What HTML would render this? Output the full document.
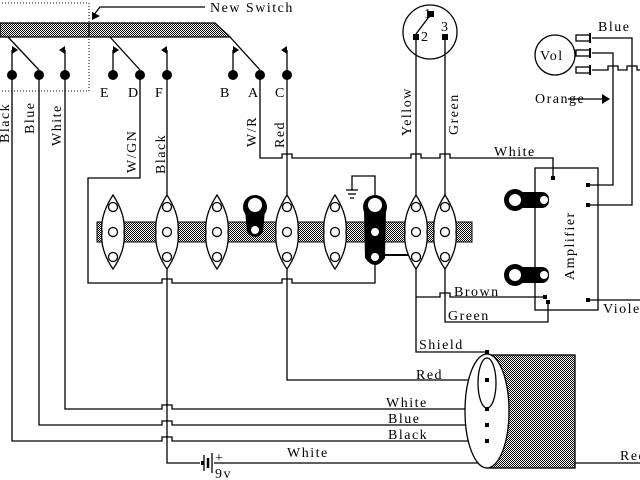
<!DOCTYPE html>
<html><head><style>body{margin:0;background:#fff}svg{display:block}text{font-family:"Liberation Serif",serif;font-size:14px;fill:#000;letter-spacing:1.5px}</style></head><body>
<svg width="640" height="480" viewBox="0 0 640 480" xmlns="http://www.w3.org/2000/svg">
<defs><pattern id="g" width="2" height="2" patternUnits="userSpaceOnUse"><rect width="2" height="2" fill="#fff"/><rect width="1" height="1" fill="#000"/><rect x="1" y="1" width="1" height="1" fill="#000"/></pattern></defs>
<g stroke="#000" stroke-width="1.3" fill="none">
<polygon points="0,23 215,23 230,37 0,37" fill="url(#g)"/>
<line x1="89" y1="23" x2="89" y2="37"/>
<rect x="-1" y="3" width="90" height="88" stroke-dasharray="1,2" stroke-width="1"/>
<polyline points="205,7 100,7 93,16"/>
<line x1="8" y1="37" x2="39" y2="70"/><line x1="110" y1="37" x2="140" y2="70"/><line x1="230" y1="37" x2="260" y2="70"/>
<line x1="12" y1="50" x2="12" y2="75"/><line x1="65" y1="50" x2="65" y2="75"/><line x1="113" y1="50" x2="113" y2="75"/><line x1="167" y1="50" x2="167" y2="75"/><line x1="233" y1="50" x2="233" y2="75"/><line x1="287" y1="50" x2="287" y2="75"/>
<polyline points="12,75 12,441 162,441 162,437 172,437 172,441 487,441"/>
<polyline points="39,75 39,425 162,425 162,421 172,421 172,425 487,425"/>
<polyline points="65,75 65,409 162,409 162,405 172,405 172,409 487,409"/>
<polyline points="140,75 140,178 88,178 88,283 162,283 162,279 172,279 172,283 282,283 282,279 292,279 292,283 375,283 375,262"/>
<polyline points="167,75 167,195"/>
<polyline points="167,268 167,463 200,463"/>
<line x1="214" y1="463" x2="640" y2="463"/>
<polyline points="260,75 260,158 282,158 282,154 292,154 292,158 411,158 411,154 421,154 421,158 440,158 440,154 450,154 450,158 553,158 553,178"/>
<polyline points="287,75 287,195"/>
<polyline points="287,268 287,380 487,380"/>
<line x1="416" y1="37" x2="416" y2="195"/><line x1="445" y1="37" x2="445" y2="195"/>
<polyline points="416,268 416,352 487,352 487,357"/>
<polyline points="416,297 440,297 440,293 450,293 450,297 545,297"/>
<polyline points="445,268 445,322 548,322 548,302"/>
<polyline points="375,195 375,176 352,176 352,190"/>
<line x1="346" y1="190" x2="358" y2="190"/><line x1="348" y1="194" x2="356" y2="194"/><line x1="350" y1="198" x2="354" y2="198"/>
<line x1="375" y1="255" x2="410" y2="255" stroke-width="2"/>
<rect x="535" y="168" width="63" height="142"/>
<polyline points="588,185 613,185 613,53 592,53"/>
<polyline points="588,205 632,205 632,38 592,38"/>
<polyline points="592,70 608,70 608,66 618,66 618,70 627,70 627,66 637,66 637,70 640,70"/>
<line x1="588" y1="300" x2="640" y2="300"/>
<line x1="568" y1="99" x2="602" y2="99"/>
<circle cx="430" cy="32" r="27"/>
<line x1="431" y1="14" x2="416" y2="34"/>
<circle cx="555" cy="55" r="20"/>
<rect x="487" y="355" width="88" height="113" fill="url(#g)"/>
<ellipse cx="487" cy="411" rx="22" ry="57" fill="#fff"/>
<ellipse cx="487" cy="383" rx="9" ry="25" fill="#fff"/>
<line x1="204" y1="455" x2="204" y2="471"/><line x1="208" y1="458" x2="208" y2="468" stroke-width="2.5"/><line x1="212" y1="453" x2="212" y2="473"/>
</g>
<g fill="#000">
<circle cx="12" cy="75" r="5"/><circle cx="39" cy="75" r="5"/><circle cx="65" cy="75" r="5"/><circle cx="113" cy="75" r="5"/><circle cx="140" cy="75" r="5"/><circle cx="167" cy="75" r="5"/><circle cx="233" cy="75" r="5"/><circle cx="260" cy="75" r="5"/><circle cx="287" cy="75" r="5"/>
<polygon points="12,46 18,50 12,54"/><polygon points="65,46 59,50 65,54"/><polygon points="113,46 119,50 113,54"/><polygon points="167,46 161,50 167,54"/><polygon points="233,46 239,50 233,54"/><polygon points="287,46 281,50 287,54"/>
<polygon points="92,20 92,12 100,16"/>
<rect x="428" y="11" width="6" height="6"/><rect x="413" y="34" width="6" height="6"/><rect x="442" y="34" width="6" height="6"/>
<rect x="551" y="176" width="4" height="4"/><rect x="586" y="183" width="4" height="4"/><rect x="586" y="203" width="4" height="4"/><rect x="543" y="295" width="4" height="4"/><rect x="546" y="300" width="4" height="4"/><rect x="586" y="298" width="4" height="4"/>
<rect x="485" y="350" width="4" height="4"/><rect x="485" y="378" width="4" height="4"/><rect x="485" y="407" width="4" height="4"/><rect x="485" y="423" width="4" height="4"/><rect x="485" y="439" width="4" height="4"/>
<polygon points="602,94 610,99 602,104"/>
<rect x="201" y="461" width="3" height="4"/>
</g>
<g stroke="#000" fill="#fff" stroke-width="1.3">
<rect x="576" y="35" width="14" height="6"/><rect x="576" y="50" width="14" height="6"/><rect x="576" y="67" width="14" height="6"/>
</g>
<g stroke="#000" stroke-width="2"><line x1="590" y1="33" x2="590" y2="43"/><line x1="590" y1="48" x2="590" y2="58"/><line x1="590" y1="65" x2="590" y2="75"/></g>
<rect x="97" y="222" width="375" height="20" fill="url(#g)" stroke="#000"/>
<g stroke="#000" stroke-width="1.3" fill="#fff">
<g id="lug"><path d="M113,195 Q126,215 124,232 Q126,250 113,269 Q100,250 102,232 Q100,215 113,195Z"/><circle cx="113" cy="207" r="4.5"/><circle cx="113" cy="232" r="4.5"/><circle cx="113" cy="257" r="4.5"/></g>
<use href="#lug" x="54"/><use href="#lug" x="104"/><use href="#lug" x="174"/><use href="#lug" x="222"/><use href="#lug" x="303"/><use href="#lug" x="332"/>
</g>
<g fill="#000">
<circle cx="255" cy="207" r="12"/><path d="M245,210 L247,232 Q255,242 263,232 L265,210Z"/>
<circle cx="375" cy="207" r="12"/><path d="M364,210 L365,258 Q375,272 385,258 L386,210Z"/>
<circle cx="515" cy="200" r="11"/><rect x="515" y="192" width="34" height="16" rx="7"/>
<circle cx="515" cy="275" r="11"/><rect x="515" y="267" width="34" height="16" rx="7"/>
</g>
<g fill="#fff"><circle cx="255" cy="205" r="7"/><circle cx="255" cy="230" r="4"/><circle cx="375" cy="205" r="7"/><circle cx="375" cy="232" r="4"/><circle cx="375" cy="257" r="4"/>
<circle cx="515" cy="200" r="6"/><circle cx="544" cy="200" r="4"/><circle cx="515" cy="275" r="6"/><circle cx="544" cy="275" r="4"/></g>
<text x="210" y="12">New Switch</text>
<text x="100" y="97">E</text><text x="128" y="97">D</text><text x="155" y="97">F</text><text x="220" y="97">B</text><text x="248" y="97">A</text><text x="275" y="97">C</text>
<text transform="translate(9,143) rotate(-90)">Black</text>
<text transform="translate(34,134) rotate(-90)">Blue</text>
<text transform="translate(61,146) rotate(-90)">White</text>
<text transform="translate(136,173) rotate(-90)">W/GN</text>
<text transform="translate(165,174) rotate(-90)">Black</text>
<text transform="translate(256,147) rotate(-90)">W/R</text>
<text transform="translate(284,148) rotate(-90)">Red</text>
<text transform="translate(411,136) rotate(-90)">Yellow</text>
<text transform="translate(458,135) rotate(-90)">Green</text>
<text x="424" y="18" font-size="12">1</text><text x="421" y="41" font-size="12">2</text><text x="441" y="31" font-size="12">3</text>
<text x="540" y="60">Vol</text>
<text x="598" y="31">Blue</text>
<text x="535" y="103">Orange</text>
<text x="494" y="156">White</text>
<text transform="translate(574,280) rotate(-90)">Amplifier</text>
<text x="454" y="296">Brown</text>
<text x="448" y="320">Green</text>
<text x="603" y="313">Violet</text>
<text x="419" y="349">Shield</text>
<text x="416" y="379">Red</text>
<text x="386" y="407">White</text>
<text x="388" y="423">Blue</text>
<text x="388" y="439">Black</text>
<text x="287" y="457">White</text>
<text x="620" y="460">Red</text>
<text x="215" y="462" font-size="12">+</text>
<text x="215" y="478" font-size="12">9v</text>
</svg>
</body></html>
